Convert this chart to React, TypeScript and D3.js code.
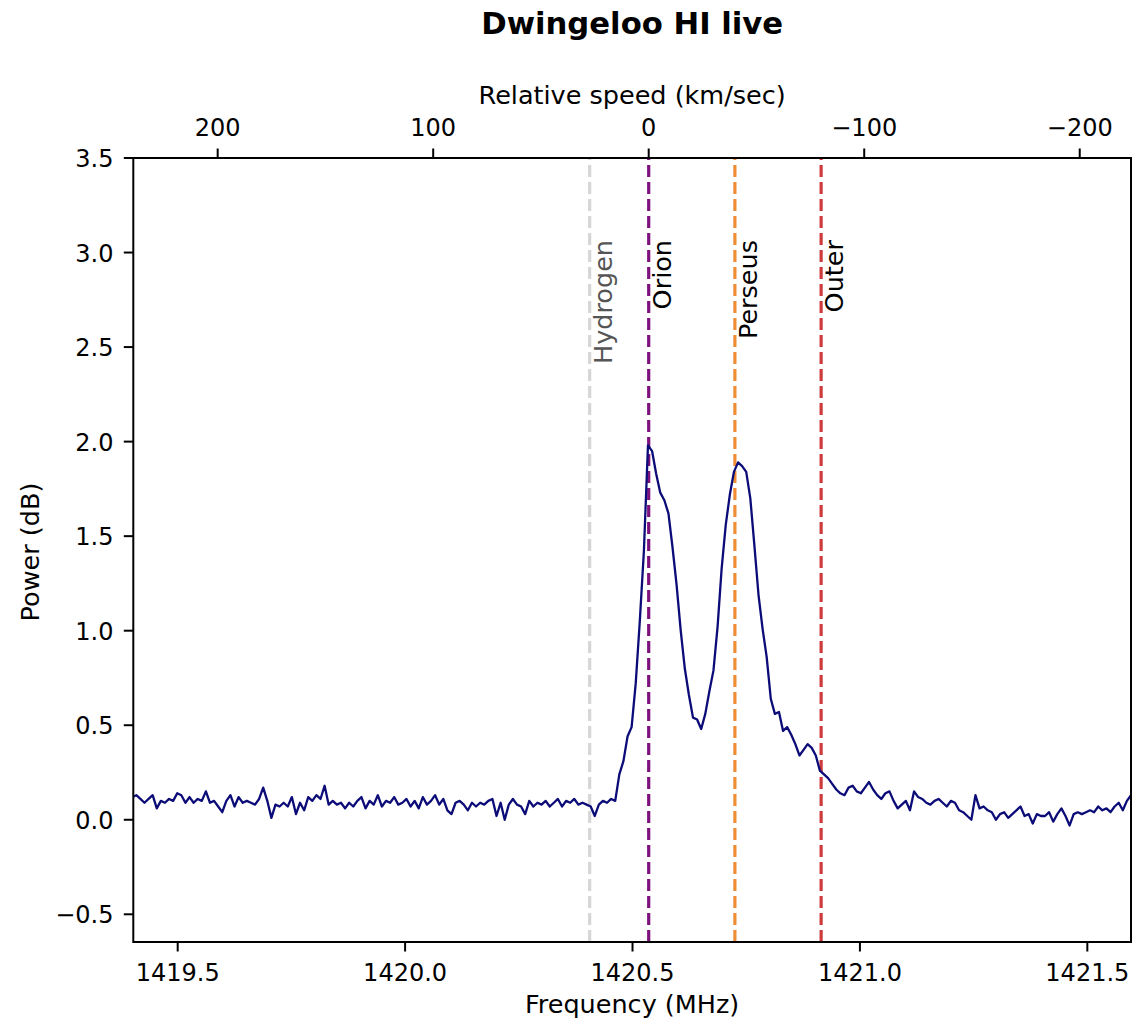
import React from "react";
import * as d3 from "d3";

// ---- data ----
const FREQ_START = 1419.4; // MHz, first channel
const FREQ_STEP = 0.009; // MHz per channel
const power: number[] = [
  0.12, 0.13, 0.11, 0.09, 0.11, 0.13, 0.06, 0.10, 0.09, 0.11,
  0.10, 0.14, 0.13, 0.09, 0.12, 0.09, 0.11, 0.10, 0.15, 0.09,
  0.10, 0.07, 0.04, 0.10, 0.13, 0.07, 0.12, 0.09, 0.10, 0.09,
  0.08, 0.11, 0.17, 0.10, 0.01, 0.08, 0.07, 0.09, 0.07, 0.12,
  0.03, 0.09, 0.05, 0.12, 0.10, 0.13, 0.11, 0.18, 0.08, 0.10,
  0.08, 0.09, 0.06, 0.09, 0.07, 0.10, 0.12, 0.06, 0.10, 0.08,
  0.13, 0.07, 0.10, 0.09, 0.12, 0.08, 0.09, 0.11, 0.07, 0.10,
  0.06, 0.12, 0.08, 0.10, 0.13, 0.08, 0.11, 0.05, 0.03, 0.09,
  0.10, 0.08, 0.05, 0.09, 0.07, 0.09, 0.08, 0.10, 0.11, 0.02,
  0.09, 0.00, 0.08, 0.11, 0.08, 0.07, 0.03, 0.10, 0.07, 0.09,
  0.08, 0.10, 0.07, 0.09, 0.11, 0.07, 0.10, 0.09, 0.11, 0.08,
  0.09, 0.08, 0.07, 0.02, 0.08, 0.10, 0.09, 0.11, 0.10, 0.24,
  0.31, 0.44, 0.49, 0.72, 1.05, 1.42, 1.98, 1.95, 1.83, 1.73,
  1.69, 1.62, 1.44, 1.24, 1.00, 0.80, 0.66, 0.54, 0.53, 0.48,
  0.56, 0.68, 0.79, 1.02, 1.33, 1.56, 1.72, 1.84, 1.89, 1.87,
  1.84, 1.70, 1.45, 1.19, 1.01, 0.86, 0.64, 0.56, 0.57, 0.47,
  0.49, 0.45, 0.40, 0.34, 0.37, 0.40, 0.38, 0.34, 0.26, 0.24,
  0.22, 0.19, 0.16, 0.14, 0.13, 0.17, 0.18, 0.15, 0.14, 0.17,
  0.20, 0.16, 0.13, 0.11, 0.14, 0.15, 0.10, 0.06, 0.08, 0.10,
  0.05, 0.15, 0.12, 0.11, 0.09, 0.08, 0.10, 0.11, 0.09, 0.07,
  0.10, 0.09, 0.05, 0.04, 0.02, 0.00, 0.13, 0.06, 0.07, 0.05,
  0.04, 0.00, 0.03, 0.04, 0.01, 0.03, 0.05, 0.07, 0.02, 0.03,
  -0.02, 0.03, 0.02, 0.02, 0.04, -0.01, 0.03, 0.06, 0.02, -0.03,
  0.03, 0.04, 0.03, 0.04, 0.05, 0.04, 0.07, 0.05, 0.06, 0.04,
  0.07, 0.09, 0.05, 0.10, 0.13,
];

const markerNames = ["Hydrogen", "Orion", "Perseus", "Outer"];
const markerFreqs = [1420.4058, 1420.5356, 1420.7251, 1420.9147];
const markerColors = ["#d6d6d6", "#7e117e", "#ef8d36", "#cf3b3d"];
const markerTextColors = ["#555555", "#000000", "#000000", "#000000"];

const bottomTicks = [1419.5, 1420.0, 1420.5, 1421.0, 1421.5];
const leftTicks = [-0.5, 0.0, 0.5, 1.0, 1.5, 2.0, 2.5, 3.0, 3.5];
const topTicks = [200, 100, 0, -100, -200];

const V_ZERO_FREQ = 1420.5356; // MHz, zero relative speed
const C_KMS = 299792.458;

const X_DOMAIN = [1419.4024, 1421.596];
const Y_DOMAIN = [-0.6465, 3.5];

const fmtMinus = (s: string) => s.replace("-", "\u2212");

export default function App() {
  const W = 1135;
  const H = 1025;
  const left = 133.3;
  const right = 1131;
  const top = 158;
  const bottom = 942;
  const font = "'DejaVu Sans', Verdana, sans-serif";
  const labelSize = 25.5;

  const x = d3.scaleLinear().domain(X_DOMAIN).range([left, right]);
  const y = d3.scaleLinear().domain(Y_DOMAIN).range([bottom, top]);
  const toV = (f: number) => ((V_ZERO_FREQ - f) / V_ZERO_FREQ) * C_KMS;
  const v = d3
    .scaleLinear()
    .domain([toV(X_DOMAIN[0]), toV(X_DOMAIN[1])])
    .range([left, right]);

  const pts: [number, number][] = power.map((p, i) => [FREQ_START + i * FREQ_STEP, p]);
  const line = d3
    .line<[number, number]>()
    .x((d) => x(d[0]))
    .y((d) => y(d[1]));

  return (
    <svg
      width={W}
      height={H}
      style={{ position: "absolute", left: 0, top: 0, background: "#ffffff" }}
      fontFamily={font}
    >
      <defs>
        <clipPath id="plotclip">
          <rect x={left} y={top} width={right - left} height={bottom - top} />
        </clipPath>
      </defs>
      <rect x={0} y={0} width={W} height={H} fill="#ffffff" />

      {/* title */}
      <text x={(left + right) / 2} y={34} textAnchor="middle" fontSize={30.7} fontWeight="bold">
        Dwingeloo HI live
      </text>

      {/* marker lines */}
      <g clipPath="url(#plotclip)">
        {markerFreqs.map((f, i) => (
          <line
            key={"m" + i}
            x1={x(f)}
            x2={x(f)}
            y1={bottom}
            y2={top}
            stroke={markerColors[i]}
            strokeWidth={3.2}
            strokeDasharray="12,5"
          />
        ))}
        <path d={line(pts) || ""} fill="none" stroke="#0c0c78" strokeWidth={2.3} strokeLinejoin="round" />
      </g>

      {/* marker labels */}
      {markerFreqs.map((f, i) => {
        const tx = x(f) + 22;
        const ty = 240;
        return (
          <text
            key={"ml" + i}
            x={tx}
            y={ty}
            transform={`rotate(-90 ${tx} ${ty})`}
            textAnchor="end"
            fontSize={labelSize}
            fill={markerTextColors[i]}
          >
            {markerNames[i]}
          </text>
        );
      })}

      {/* frame */}
      <rect x={left} y={top} width={right - left} height={bottom - top} fill="none" stroke="#000" strokeWidth={2} />

      {/* bottom axis */}
      {bottomTicks.map((t) => (
        <g key={"b" + t}>
          <line x1={x(t)} x2={x(t)} y1={bottom} y2={bottom + 9.5} stroke="#000" strokeWidth={2} />
          <text x={x(t)} y={980.5} textAnchor="middle" fontSize={24}>
            {t.toFixed(1)}
          </text>
        </g>
      ))}
      <text x={(left + right) / 2} y={1013} textAnchor="middle" fontSize={labelSize}>
        Frequency (MHz)
      </text>

      {/* left axis */}
      {leftTicks.map((t) => (
        <g key={"l" + t}>
          <line x1={left - 9.5} x2={left} y1={y(t)} y2={y(t)} stroke="#000" strokeWidth={2} />
          <text x={113.5} y={y(t) + 9} textAnchor="end" fontSize={24}>
            {fmtMinus(t.toFixed(1))}
          </text>
        </g>
      ))}
      <text
        x={39}
        y={552}
        transform={`rotate(-90 39 552)`}
        textAnchor="middle"
        fontSize={labelSize}
      >
        Power (dB)
      </text>

      {/* top axis */}
      {topTicks.map((t) => (
        <g key={"t" + t}>
          <line x1={v(t)} x2={v(t)} y1={top} y2={top - 9.5} stroke="#000" strokeWidth={2} />
          <text x={v(t)} y={135.5} textAnchor="middle" fontSize={24}>
            {fmtMinus(String(t))}
          </text>
        </g>
      ))}
      <text x={(left + right) / 2} y={104} textAnchor="middle" fontSize={labelSize}>
        Relative speed (km/sec)
      </text>
    </svg>
  );
}
